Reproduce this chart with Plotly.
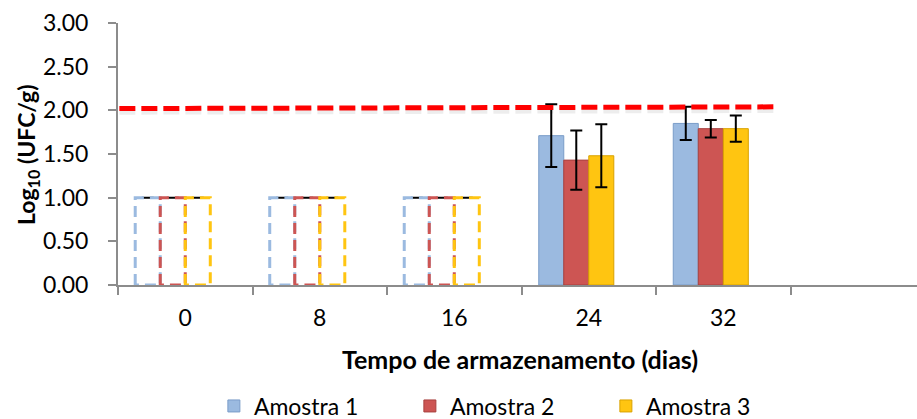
import plotly.graph_objects as go

# ---------------- data ----------------
categories = ["0", "8", "16", "24", "32"]
series_names = ["Amostra 1", "Amostra 2", "Amostra 3"]
amostra1 = [1.00, 1.00, 1.00, 1.71, 1.85]
amostra2 = [1.00, 1.00, 1.00, 1.43, 1.79]
amostra3 = [1.00, 1.00, 1.00, 1.48, 1.79]
erro1 = [0, 0, 0, 0.36, 0.19]
erro2 = [0, 0, 0, 0.34, 0.10]
erro3 = [0, 0, 0, 0.36, 0.15]
abaixo_limite = [True, True, True, False, False]  # below detection limit -> dashed outline
limite_x = [-0.49, 4.40]
limite_y = [2.02, 2.04]
y_ticks = [0, 0.5, 1.0, 1.5, 2.0, 2.5, 3.0]

# ---------------- style ----------------
FONT = "Lato"
fills = ["#9BBAE0", "#CD5553", "#FFC511"]
edges = ["#7A9CC8", "#A8413F", "#D9A200"]
n_slots = 4           # Excel group had a 4th (empty) slot
bargap = 0.256
w = (1 - bargap) / n_slots

values = [amostra1, amostra2, amostra3]
errors = [erro1, erro2, erro3]
xpos = list(range(len(categories)))

fig = go.Figure()

for i, (name, vals, errs) in enumerate(zip(series_names, values, errors)):
    off = (i - n_slots / 2) * w
    colors = ["rgba(0,0,0,0)" if b else fills[i] for b in abaixo_limite]
    lcolors = ["rgba(0,0,0,0)" if b else edges[i] for b in abaixo_limite]
    fig.add_trace(go.Bar(
        x=xpos, y=vals, name=name, width=w, offset=off,
        marker=dict(color=colors, line=dict(color=lcolors, width=1)),
        error_y=dict(type="data", array=errs, visible=True, color="black",
                     thickness=2, width=6),
        showlegend=False,
    ))
    # dashed outlines for values below the detection limit
    ox, oy = [], []
    for xc, v, b in zip(xpos, vals, abaixo_limite):
        if b:
            x0, x1 = xc + off, xc + off + w
            ox += [x0, x0, x1, x1, x0, None]
            oy += [0, v, v, 0, 0, None]
    fig.add_trace(go.Scatter(
        x=ox, y=oy, mode="lines", showlegend=False, hoverinfo="skip",
        line=dict(color=fills[i], width=3, dash="11px,6px"),
    ))

# legend entries
for i, name in enumerate(series_names):
    fig.add_trace(go.Bar(
        x=[None], y=[None], name=name,
        marker=dict(color=fills[i], line=dict(color=edges[i], width=1)),
        showlegend=True,
    ))

# limit line with soft shadow
fig.add_trace(go.Scatter(
    x=limite_x, y=[v - 0.03 for v in limite_y], mode="lines", showlegend=False,
    hoverinfo="skip", line=dict(color="rgba(0,0,0,0.07)", width=7, dash="16px,6px"),
))
fig.add_trace(go.Scatter(
    x=limite_x, y=limite_y, mode="lines", showlegend=False, hoverinfo="skip",
    line=dict(color="#FF0000", width=5, dash="16px,6px"),
))

fig.update_layout(
    width=917, height=419,
    margin=dict(l=118, r=0, t=23, b=134, autoexpand=False),
    paper_bgcolor="white", plot_bgcolor="white",
    barmode="overlay",
    font=dict(family=FONT, size=23, color="black"),
    showlegend=True,
    legend=dict(orientation="h", x=0.12, xanchor="left", y=-(406 - 285) / 262,
                yanchor="middle", yref="paper", entrywidth=151, entrywidthmode="pixels",
                font=dict(family=FONT, size=23), traceorder="normal"),
    xaxis=dict(
        range=[-0.5, 5.44], tickmode="array", tickvals=xpos, ticktext=categories,
        ticks="", showgrid=False, zeroline=False, showline=True,
        linecolor="#8C8C8C", linewidth=2, ticklabelstandoff=11,
        tickfont=dict(family=FONT, size=23),
        minor=dict(ticks="outside", tick0=0.5, dtick=1, ticklen=8,
                   tickcolor="#8C8C8C", tickwidth=2, showgrid=False),
    ),
    yaxis=dict(
        range=[0, 3], tickmode="array", tickvals=y_ticks,
        ticktext=[f"{v:.2f}" for v in y_ticks],
        ticks="outside", ticklen=8, tickcolor="#8C8C8C", tickwidth=2,
        showgrid=False, zeroline=False, showline=True, linecolor="#8C8C8C",
        linewidth=2, ticklabelstandoff=15, tickfont=dict(family=FONT, size=23),
    ),
    annotations=[
        dict(text="<b>Tempo de armazenamento (dias)</b>", xref="paper", yref="paper",
             x=(520 - 118) / 799, y=-(359 - 285) / 262, xanchor="center",
             yanchor="middle", showarrow=False, font=dict(family=FONT, size=25)),
        dict(text="<b>Log<sub>10</sub> (UFC/g)</b>", xref="paper", yref="paper",
             x=-(118 - 27) / 799, y=(285 - 155) / 262, xanchor="center",
             yanchor="middle", textangle=-90, showarrow=False,
             font=dict(family=FONT, size=23)),
    ],
)

fig.write_html("out.html")
